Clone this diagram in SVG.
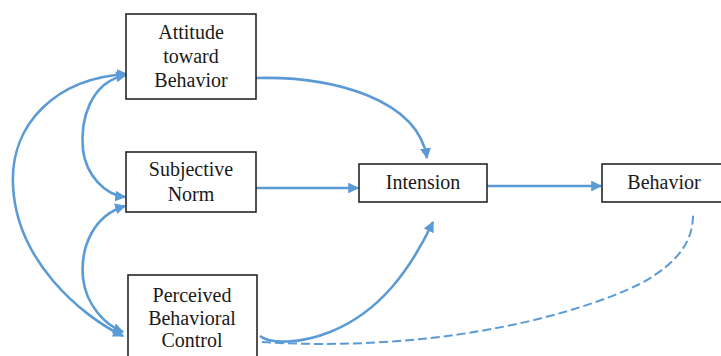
<svg xmlns="http://www.w3.org/2000/svg" width="721" height="356" viewBox="0 0 721 356">
<style>
.box{fill:#fff;stroke:#262626;stroke-width:1.6}
text{font-family:"Times New Roman","Liberation Serif",serif;font-size:20px;fill:#1a1a1a;text-anchor:middle}
.c{fill:none;stroke:#5B9BD5;stroke-width:2.6}
.d{fill:none;stroke:#5B9BD5;stroke-width:2;stroke-dasharray:9 4}
</style>
<defs>
<marker id="ah" viewBox="0 0 10 10" refX="9" refY="5" markerWidth="4.2" markerHeight="4.2" orient="auto-start-reverse" markerUnits="strokeWidth">
<path d="M0,0 L10,5 L0,10 z" fill="#5B9BD5"/>
</marker>
</defs>
<rect width="721" height="356" fill="#fff"/>
<g id="connectors">
<path class="c" d="M256,78 C335,76 418,100 427,158" marker-end="url(#ah)"/>
<path class="c" d="M256,188 L358,188" marker-end="url(#ah)"/>
<path class="c" d="M487,186 L601,186" marker-end="url(#ah)"/>
<path class="c" d="M260,336 C270,344 300,344 330,332 C380,312 410,270 433,222" marker-end="url(#ah)"/>
<path class="d" d="M262,342 C420,352 560,322 640,284 C680,262 693,240 693,215"/>
<path class="c" d="M127,74 C55,78 10,125 13,185 C16,260 80,315 123,336" marker-start="url(#ah)" marker-end="url(#ah)"/>
<path class="c" d="M126,75 C90,82 80,120 83,150 C86,175 105,195 125,197" marker-start="url(#ah)" marker-end="url(#ah)"/>
<path class="c" d="M125,206 C95,215 80,245 83,278 C86,305 105,325 123,332" marker-start="url(#ah)" marker-end="url(#ah)"/>
</g>
<g id="attitude">
<rect class="box" x="126" y="14" width="130" height="85"/>
<text x="191" y="39">Attitude</text>
<text x="191" y="63">toward</text>
<text x="191" y="87">Behavior</text>
</g>
<g id="subjective-norm">
<rect class="box" x="126" y="152" width="130" height="60"/>
<text x="191" y="176">Subjective</text>
<text x="191" y="201">Norm</text>
</g>
<g id="perceived">
<rect class="box" x="128" y="275" width="129" height="95"/>
<text x="192" y="302">Perceived</text>
<text x="192" y="325">Behavioral</text>
<text x="192" y="347">Control</text>
</g>
<g id="intension">
<rect class="box" x="359" y="164" width="128" height="38"/>
<text x="423" y="189">Intension</text>
</g>
<g id="behavior">
<rect class="box" x="602" y="164" width="125" height="38"/>
<text x="664" y="189">Behavior</text>
</g>
</svg>
